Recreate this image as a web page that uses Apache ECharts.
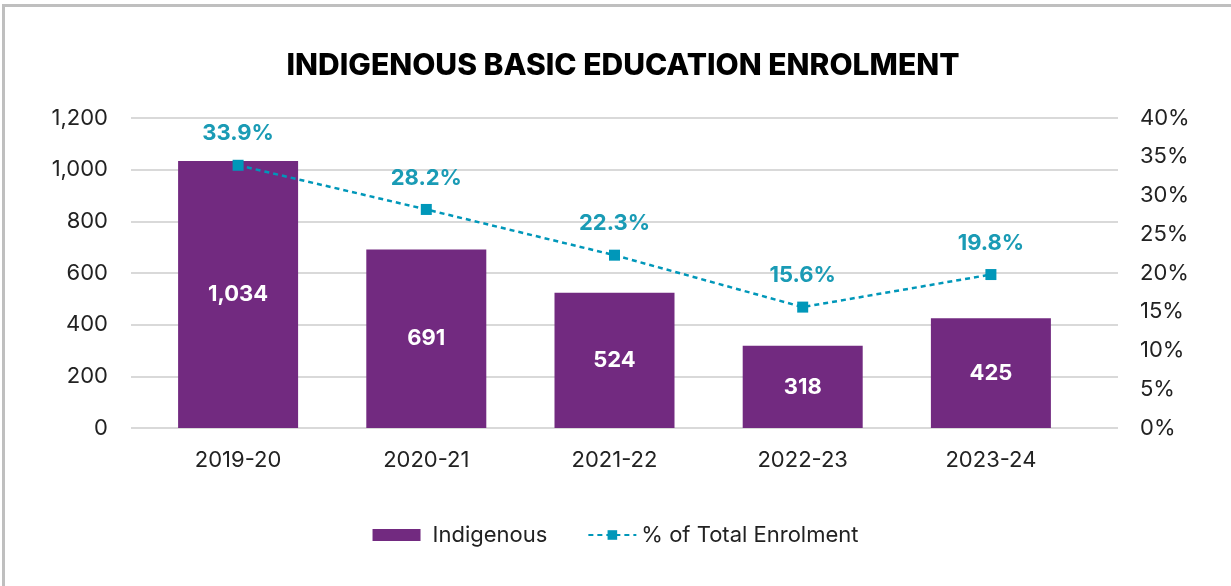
<!DOCTYPE html>
<html><head><meta charset="utf-8">
<script src="https://cdn.jsdelivr.net/npm/echarts@6/dist/echarts.min.js"></script>
<style>html,body{margin:0;padding:0;background:#fff}#c{width:1231px;height:586px}</style>
</head><body><div id="c"></div>
<script>
const categories = ['2019-20','2020-21','2021-22','2022-23','2023-24'];
const indigenous = [1034, 691, 524, 318, 425];
const pctTotal = [33.9, 28.2, 22.3, 15.6, 19.8];
const leftTicks = {min:0, max:1200, interval:200};
const rightTicks = {min:0, max:40, interval:5};

const FONT = 'Inter, "Noto Sans", sans-serif';
const chart = echarts.init(document.getElementById('c'), null, {renderer:'canvas'});
const gTop = 118, gBottom = 586-428;
chart.setOption({
  animation:false,
  textStyle:{fontFamily:FONT},
  graphic:[{type:'rect', shape:{x:3.5,y:5.5,width:1240,height:600}, style:{fill:'none', stroke:'#bfbfbf', lineWidth:3}}],
  title:{text:'INDIGENOUS BASIC EDUCATION ENROLMENT', left:618, textAlign:'center', top:46,
    textStyle:{fontFamily:FONT, fontWeight:800, fontSize:30, color:'#000', letterSpacing:1.2}},
  legend:{bottom:35, left:'center', itemGap:40, itemWidth:48, itemHeight:12,
    textStyle:{fontFamily:FONT, fontSize:22, color:'#222', letterSpacing:0.5},
    data:[
      {name:'Indigenous', icon:'rect', textStyle:{padding:[0,0,0,7]}},
      {name:'% of Total Enrolment', textStyle:{padding:[0,0,0,0]}}
    ]},
  grid:[
    {left:131, right:113, top:gTop, bottom:gBottom},
    {left:144, right:146, top:gTop, bottom:gBottom}
  ],
  xAxis:[
    {type:'category', gridIndex:0, data:categories, show:false},
    {type:'category', gridIndex:1, data:categories, axisLine:{show:false}, axisTick:{show:false},
      axisLabel:{fontFamily:FONT, fontSize:22, color:'#222', margin:21}}
  ],
  yAxis:[
    {type:'value', gridIndex:0, position:'left', ...leftTicks,
      axisLine:{show:false}, axisTick:{show:false},
      splitLine:{lineStyle:{color:'#d9d9d9', width:2}},
      axisLabel:{fontFamily:FONT, fontSize:22, color:'#222', margin:23,
        formatter:v=>v.toLocaleString('en-US')}},
    {type:'value', gridIndex:0, position:'right', ...rightTicks,
      axisLine:{show:false}, axisTick:{show:false}, splitLine:{show:false},
      axisLabel:{fontFamily:FONT, fontSize:22, color:'#222', margin:22, formatter:v=>v+'%'}},
    {type:'value', gridIndex:1, position:'left', ...leftTicks, show:false, splitLine:{show:false}},
    {type:'value', gridIndex:1, position:'right', ...rightTicks, show:false, splitLine:{show:false}}
  ],
  series:[
    {name:'Indigenous', type:'bar', xAxisIndex:1, yAxisIndex:2, data:indigenous, barWidth:120,
      itemStyle:{color:'#722a80'},
      label:{show:true, position:'inside', color:'#fff', fontFamily:FONT, fontWeight:'bold', fontSize:22,
        formatter:p=>p.value.toLocaleString('en-US')}},
    {name:'% of Total Enrolment', type:'line', xAxisIndex:1, yAxisIndex:3, data:pctTotal,
      symbol:'rect', symbolSize:11, itemStyle:{color:'#0097b9'},
      lineStyle:{color:'#0097b9', width:2.5, type:[5,4]},
      label:{show:true, position:'top', distance:15, color:'#1a9bb5', fontFamily:FONT, fontWeight:'bold', fontSize:22,
        formatter:p=>p.value.toFixed(1)+'%'}}
  ]
});
</script></body></html>
